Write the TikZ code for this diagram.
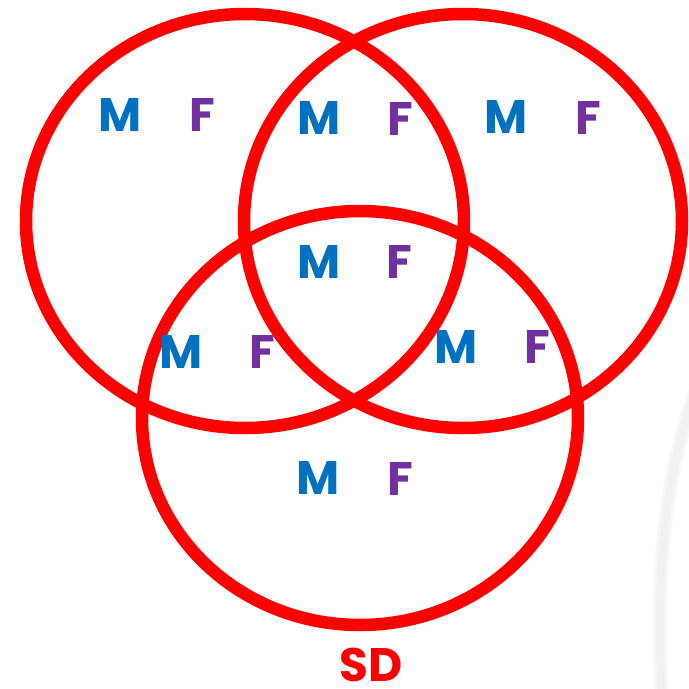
\documentclass[tikz,border=0pt]{standalone}
\usepackage{fontspec}
\setmainfont{Poppins}
\usepackage{tikz}
\definecolor{venred}{HTML}{FF0000}
\definecolor{venblue}{HTML}{0070C0}
\definecolor{venpurple}{HTML}{7030A0}
\tikzset{set/.style={draw=venred, line width=12.5pt}}
\tikzset{lbl/.style={inner sep=0pt, font=\fontsize{47}{47}\selectfont\bfseries}}
\tikzset{male/.style={lbl, text=venblue}}
\tikzset{female/.style={lbl, text=venpurple}}

\begin{document}
\begin{tikzpicture}[x=1pt,y=-1pt]
    \useasboundingbox (0,0) rectangle (689,689);
    % shadow of the page on the right
    \draw[line width=14pt, gray!6, line cap=round] (694,395) .. controls (668,470) and (654,560) .. (662,700);
    \draw[line width=8pt, gray!11, line cap=round] (694,395) .. controls (668,470) and (654,560) .. (662,700);

    \draw[set] (245,221) ellipse [x radius=219pt, y radius=207pt];
    \draw[set] (463,221) ellipse [x radius=219pt, y radius=207pt];
    \draw[set] (360,418) ellipse [x radius=218pt, y radius=207pt];

    \node[male] (mL) at (120,115) {M};
    \node[female] (fL) at (202,115) {F};
    \node[male] (mLR) at (319,118) {M};
    \node[female] (fLR) at (400,119) {F};
    \node[male] (mR) at (506,117) {M};
    \node[female] (fR) at (588,118) {F};

    \node[male] (mLRB) at (319,262) {M};
    \node[female] (fLRB) at (399,262) {F};

    \node[male] (mLB) at (181,352) {M};
    \node[female] (fLB) at (262,352) {F};
    \node[male] (mRB) at (456,347) {M};
    \node[female] (fRB) at (537,347) {F};

    \node[male] (mB) at (318,478) {M};
    \node[female] (fB) at (400,479) {F};

    \node[lbl, text=venred] (sd) at (371,665) {SD};
  \end{tikzpicture}
\end{document}
